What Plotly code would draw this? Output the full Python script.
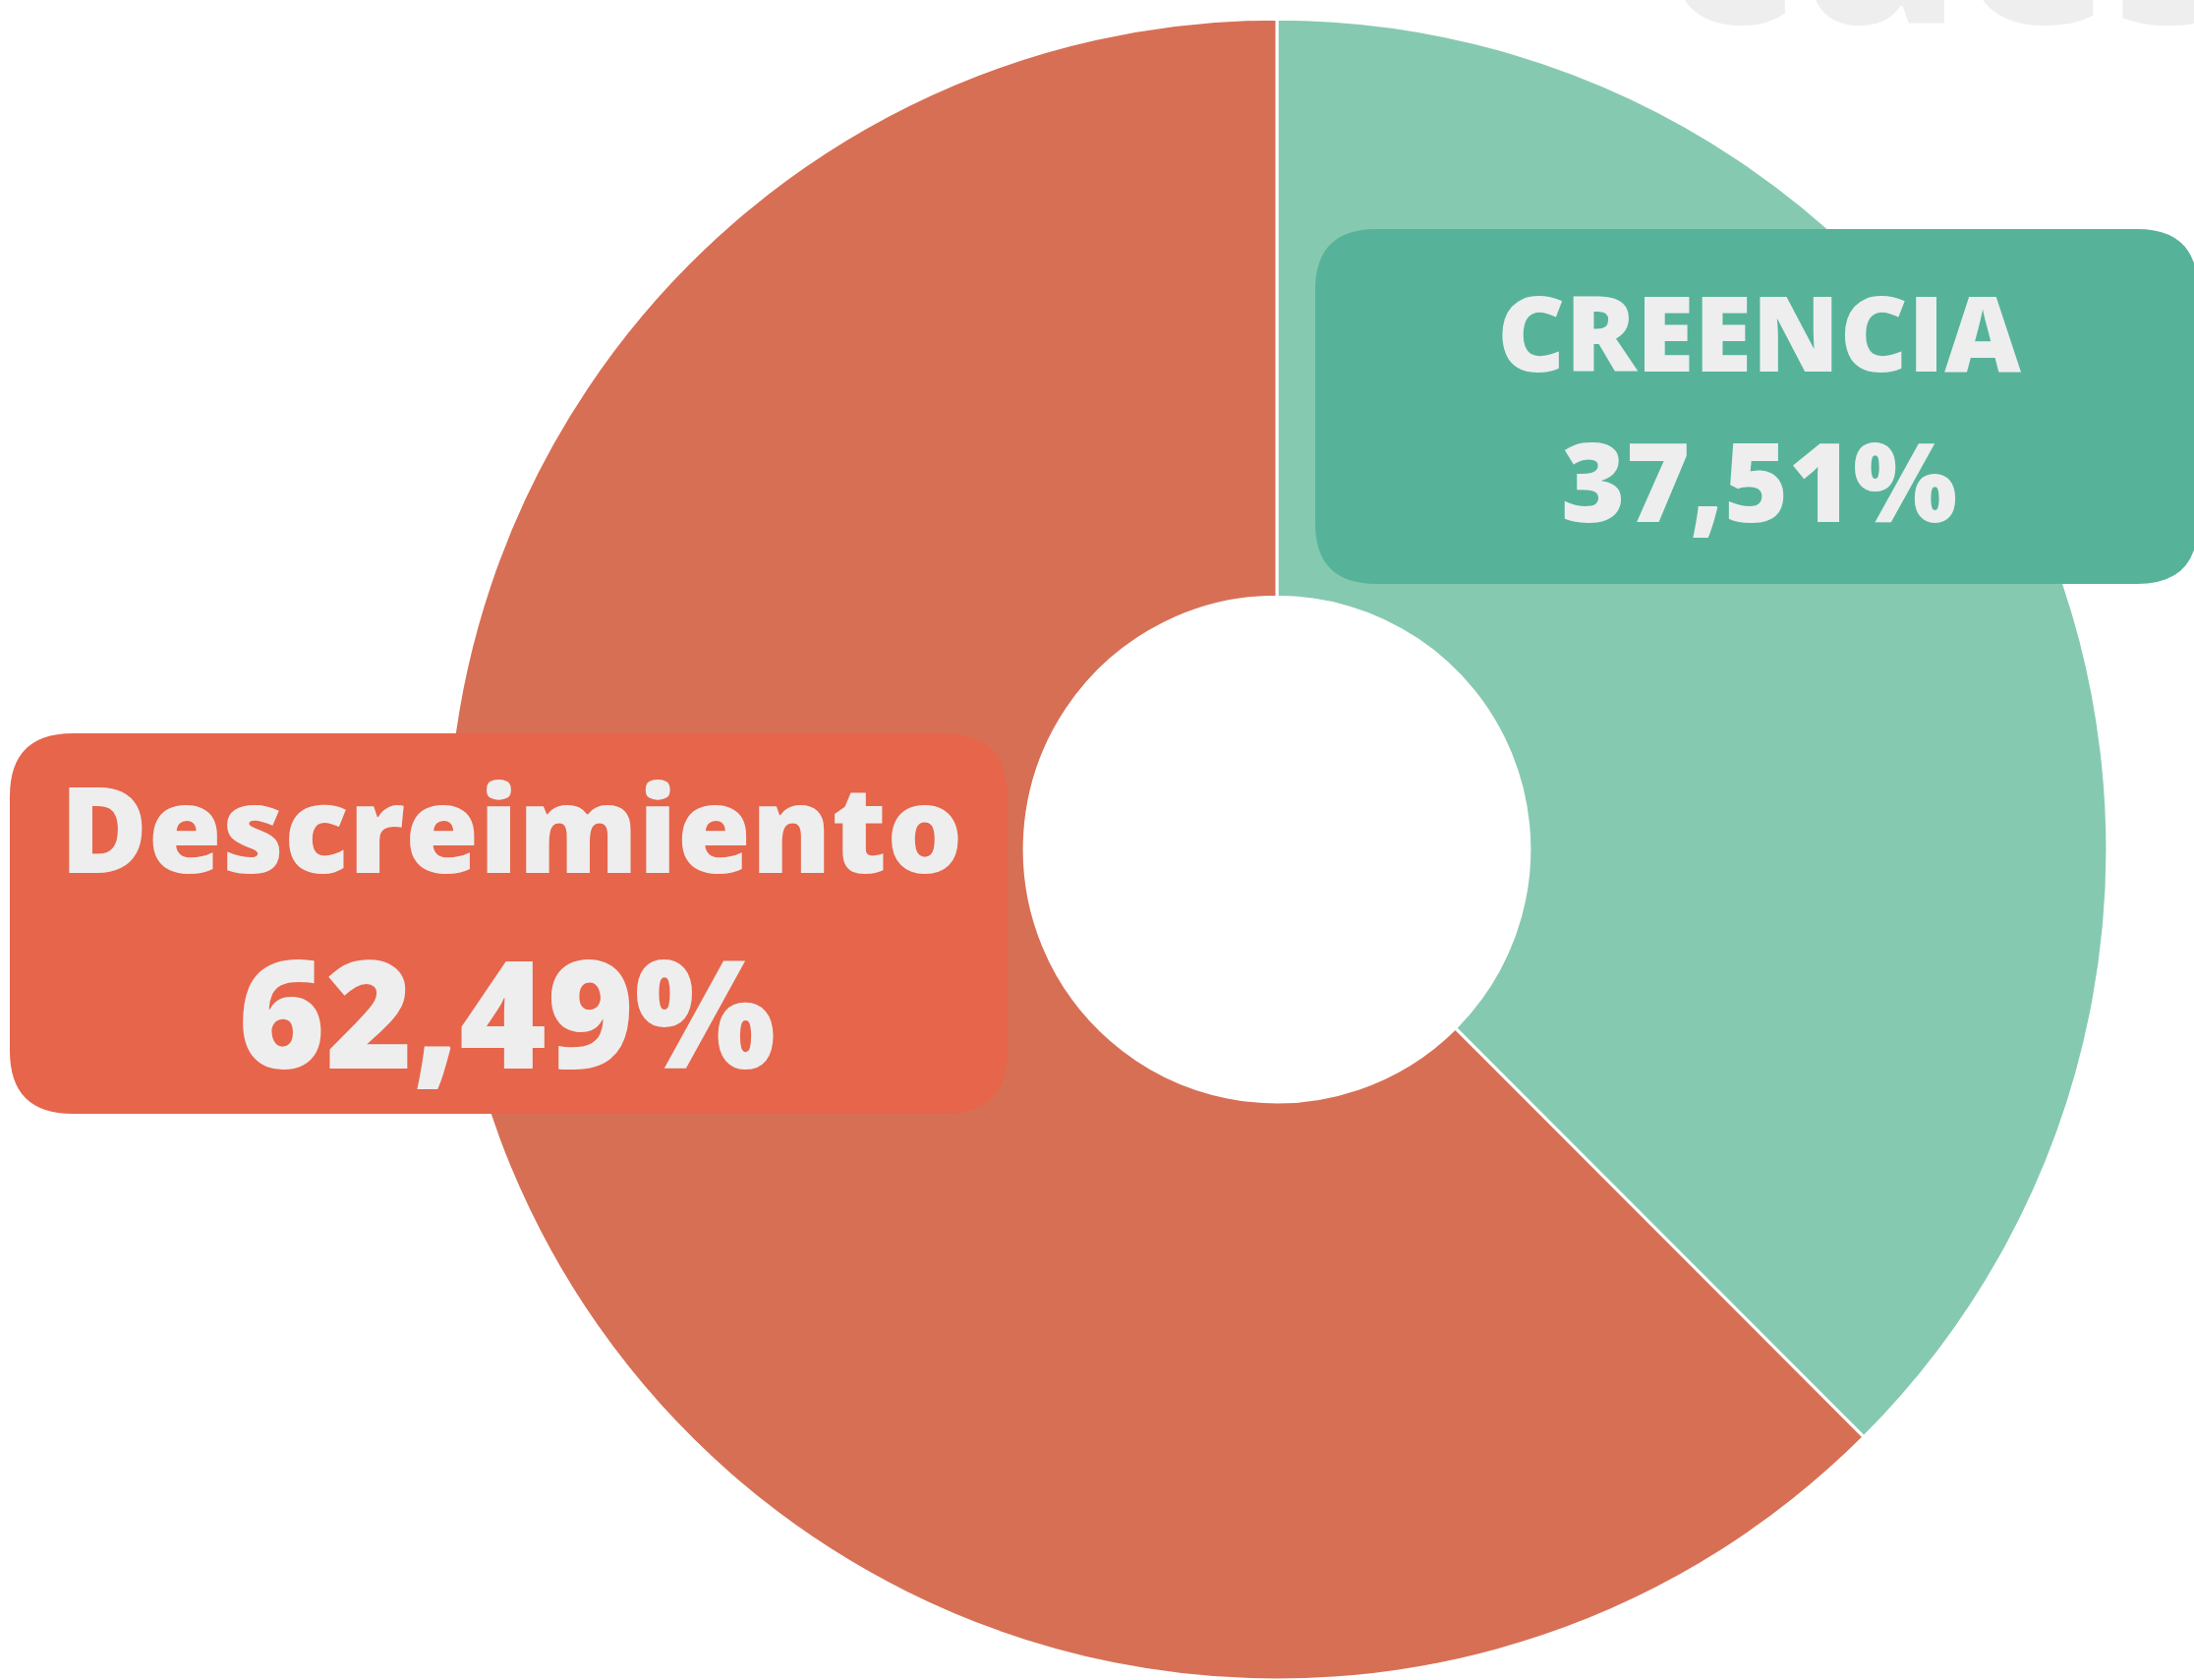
import plotly.graph_objects as go

# ---- data ----
categories = ["CREENCIA", "Descreimiento"]
values = [37.51, 62.49]
value_labels = ["37,51%", "62,49%"]
slice_colors = ["#86C9B1", "#D76F55"]
box_colors = ["#56B39A", "#E6654B"]
backdrop_word = "cuesta"

W, H = 2232, 1709


def px(x):
    return x / W


def py(y):
    return 1 - y / H


def rounded_rect(x0, y0, x1, y1, r):
    pts = [
        ("M", [(x0 + r, y0)]),
        ("L", [(x1 - r, y0)]),
        ("Q", [(x1, y0), (x1, y0 + r)]),
        ("L", [(x1, y1 - r)]),
        ("Q", [(x1, y1), (x1 - r, y1)]),
        ("L", [(x0 + r, y1)]),
        ("Q", [(x0, y1), (x0, y1 - r)]),
        ("L", [(x0, y0 + r)]),
        ("Q", [(x0, y0), (x0 + r, y0)]),
    ]
    s = ""
    for cmd, ps in pts:
        s += cmd + " " + " ".join(f"{px(a):.5f},{py(b):.5f}" for a, b in ps) + " "
    return s + "Z"


# pie geometry (pixels)
cx, cy, R = 1299, 864, 845

fig = go.Figure(
    go.Pie(
        labels=categories,
        values=values,
        sort=False,
        direction="clockwise",
        rotation=0,
        hole=0.304,
        marker=dict(colors=slice_colors, line=dict(color="white", width=3)),
        textinfo="none",
        hoverinfo="label+percent",
        showlegend=False,
        domain=dict(x=[px(cx - R), px(cx + R)], y=[0, (H - cy + R) / H - 0.0001]),
    )
)

shapes = [
    dict(type="path", xref="paper", yref="paper",
         path=rounded_rect(1338, 233, 2236, 594, 62),
         fillcolor=box_colors[0], line=dict(width=0), layer="above"),
    dict(type="path", xref="paper", yref="paper",
         path=rounded_rect(10, 746, 1025, 1133, 64),
         fillcolor=box_colors[1], line=dict(width=0), layer="above"),
]

FONT = "'Open Sans', Lato, sans-serif"
TXT = "#EEEEEE"

annotations = [
    dict(text=backdrop_word, x=px(1690), y=py(99), xref="paper", yref="paper",
         xanchor="left", yanchor="bottom", showarrow=False,
         font=dict(family=FONT, size=250, color=TXT, weight=800)),
    dict(text=categories[0], x=px(1789), y=py(336), xref="paper", yref="paper",
         xanchor="center", yanchor="middle", showarrow=False,
         font=dict(family=FONT, size=107, color=TXT, weight=800)),
    dict(text=value_labels[0], x=px(1789), y=py(488), xref="paper", yref="paper",
         xanchor="center", yanchor="middle", showarrow=False,
         font=dict(family=FONT, size=112, color=TXT, weight=800)),
    dict(text=categories[1], x=px(520), y=py(841), xref="paper", yref="paper",
         xanchor="center", yanchor="middle", showarrow=False,
         font=dict(family=FONT, size=122, color=TXT, weight=800)),
    dict(text=value_labels[1], x=px(515), y=py(1028), xref="paper", yref="paper",
         xanchor="center", yanchor="middle", showarrow=False,
         font=dict(family=FONT, size=152, color=TXT, weight=800)),
]

fig.update_layout(
    width=W, height=H,
    margin=dict(l=0, r=0, t=0, b=0, pad=0),
    paper_bgcolor="white", plot_bgcolor="white",
    shapes=shapes, annotations=annotations,
    showlegend=False,
)

fig.write_html(
    "out.html",
    config={"displayModeBar": False},
    post_script="document.body.style.margin='0';document.body.style.overflow='hidden';",
)
